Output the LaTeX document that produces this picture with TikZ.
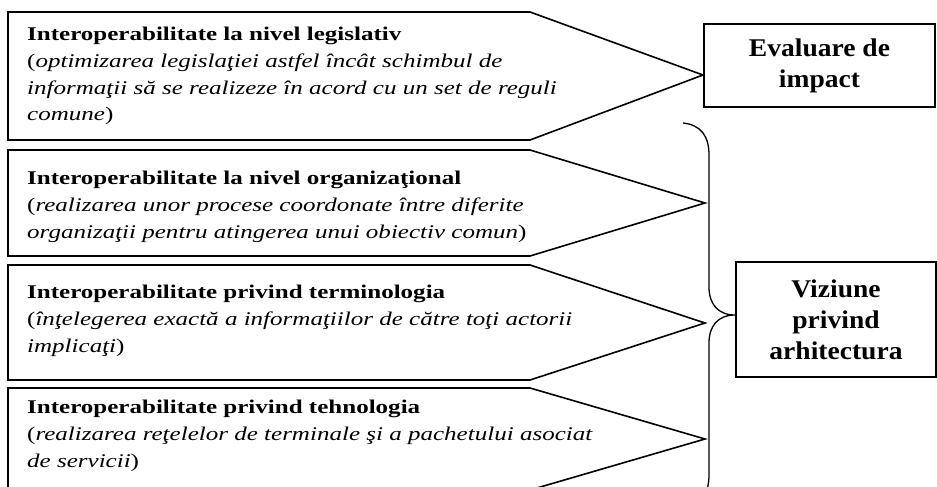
\documentclass[tikz,border=0pt]{standalone}
\usepackage{fontspec}
\setmainfont{Liberation Serif}
\newfontfamily\widerm[FakeStretch=1.29]{Liberation Serif}
\newfontfamily\boxrm[FakeStretch=1.08]{Liberation Serif}

\tikzset{
  levelshape/.style={line width=1.6pt, line join=miter},
  desc/.style={anchor=base west, inner sep=0pt, align=left,
    font=\widerm\fontsize{19.4}{27}\selectfont},
  target/.style={draw, line width=1.6pt, inner sep=0pt, align=center,
    font=\boxrm\bfseries\fontsize{25.5}{31}\selectfont},
}

\begin{document}
\begin{tikzpicture}[x=1pt,y=-1pt]
\useasboundingbox (0,0) rectangle (937,487);
\clip (0,0) rectangle (937,487);

% Legislative level (node placed at its last baseline)
\draw[levelshape] (8,12) -- (530,12) -- (703,75) -- (530,140) -- (8,140) -- cycle;
\node[desc] (leg) at (27,121) {\textbf{Interoperabilitate la nivel legislativ}\\
  (\textit{optimizarea legislaţiei astfel încât schimbul de}\\
  \textit{informaţii să se realizeze în acord cu un set de reguli}\\
  \textit{comune})};

% Organisational level
\draw[levelshape] (8,150) -- (530,150) -- (705,203) -- (530,256) -- (8,256) -- cycle;
\node[desc] (org) at (27,238) {\textbf{Interoperabilitate la nivel organizaţional}\\
  (\textit{realizarea unor procese coordonate între diferite}\\
  \textit{organizaţii pentru atingerea unui obiectiv comun})};

% Terminology
\draw[levelshape] (8,265) -- (530,265) -- (705,323) -- (530,380) -- (8,380) -- cycle;
\node[desc] (term) at (27,352) {\textbf{Interoperabilitate privind terminologia}\\
  (\textit{înţelegerea exactă a informaţiilor de către toţi actorii}\\
  \textit{implicaţi})};

% Technology
\draw[levelshape] (8,388) -- (530,388) -- (705,439) -- (530,490) -- (8,490) -- cycle;
\node[desc] (tech) at (27,467) {\textbf{Interoperabilitate privind tehnologia}\\
  (\textit{realizarea reţelelor de terminale şi a pachetului asociat}\\
  \textit{de servicii})};

% Right-hand boxes
\node[target, minimum width=231pt, minimum height=83pt] (impact) at (819.5,65.5) {Evaluare de\\impact};
\node[target, minimum width=200pt, minimum height=115pt] (arch) at (836,319.5) {Viziune\\privind\\arhitectura};

% Brace
\coordinate (bracetip) at (735,315);
\draw[line width=1.3pt] (683,123) .. controls (701,125) and (709,136) .. (709,155) -- (709,287)
  .. controls (709,304) and (718,315) .. (bracetip)
  .. controls (718,315) and (709,326) .. (709,343) -- (709,475)
  .. controls (709,494) and (701,505) .. (683,507);
\end{tikzpicture}
\end{document}
